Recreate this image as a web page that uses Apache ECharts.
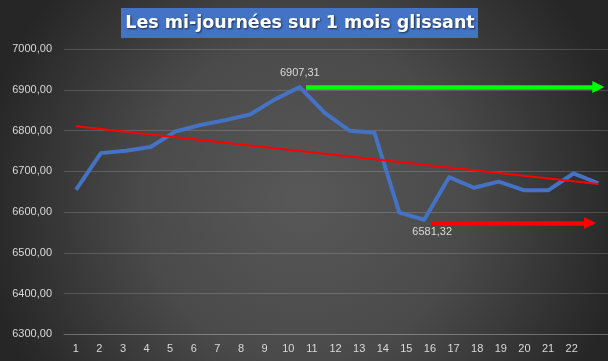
<!DOCTYPE html>
<html><head><meta charset="utf-8">
<script src="https://cdn.jsdelivr.net/npm/echarts@6/dist/echarts.min.js"></script>
<style>html,body{margin:0;padding:0;background:#2a2a2a}#c{width:608px;height:361px}</style>
</head><body><div id="c"></div>
<script>
const titleText = 'Les mi-journées sur 1 mois glissant';
const days = [1,2,3,4,5,6,7,8,9,10,11,12,13,14,15,16,17,18,19,20,21,22];
const values = [6655,6745,6751,6760,6798,6814,6826,6840,6877,6907.31,6844,6800,6795,6599,6581.32,6686,6660,6675,6654,6654,6695,6671];
const trendStart = [1, 6811];
const trendEnd = [22, 6669];
const maxArrow = [[10.25, 6907.31],[22.0, 6907.31]];
const minArrow = [[15.3, 6573.5],[21.67, 6573.5]];
const yTicks = [6300,6400,6500,6600,6700,6800,6900,7000];

const fmt = v => Number(v).toFixed(2).replace('.', ',');
const labelColor = '#d9d9d9';
const font = '"Liberation Sans", Arial, sans-serif';

const chart = echarts.init(document.getElementById('c'));
chart.setOption({
  backgroundColor: {type:'radial', x:0.5, y:0.55, r:0.9, colorStops:[{offset:0,color:'#585858'},{offset:0.5,color:'#4a4a4a'},{offset:1,color:'#262626'}]},
  animation:false,
  graphic:[
    {type:'rect', shape:{x:121, y:8, width:357, height:30}, style:{fill:'#4472C4'}},
    {type:'text', x:300, y:23, style:{text:titleText, fill:'#ffffff', font:'bold 17.5px "DejaVu Sans", sans-serif', align:'center', verticalAlign:'middle', textShadowColor:'rgba(0,0,0,0.6)', textShadowBlur:2, textShadowOffsetX:1, textShadowOffsetY:1}}
  ],
  grid:{left:64, right:0, top:49.3, bottom:26.7},
  xAxis:[
    {type:'value', min:0.5046, max:23.537,
     axisLine:{show:true, lineStyle:{color:'rgba(255,255,255,0.16)'}}, axisTick:{show:false}, splitLine:{show:false},
     axisLabel:{customValues:days, color:labelColor, fontFamily:font, fontSize:11, margin:9, formatter: v => String(v)}},
    {type:'value', min:0.5175, max:22.39, show:false, splitLine:{show:false}}
  ],
  yAxis:{type:'value', min:6300, max:7000, interval:100,
    axisLine:{show:false}, axisTick:{show:false},
    splitLine:{lineStyle:{color:'rgba(255,255,255,0.16)', width:1}},
    axisLabel:{color:labelColor, fontFamily:font, fontSize:11, margin:12, formatter: v => yTicks.includes(v) ? fmt(v) : ''}},
  series:[
    {type:'line', xAxisIndex:1, data:[trendStart, trendEnd], symbol:'none', lineStyle:{color:'#ff0000', width:2}, z:3, silent:true},
    {type:'line', xAxisIndex:1, data:days.map((d,i)=>[d, values[i]]), symbol:'none', lineStyle:{color:'#4472C4', width:4, join:'round'}, z:2,
     markPoint:{silent:true, symbol:'circle', symbolSize:0,
       data:[
         {type:'max', valueDim:'y', label:{show:true, position:'top', distance:9, color:labelColor, fontFamily:font, fontSize:11, formatter: p => fmt(p.value)}},
         {type:'min', valueDim:'y', label:{show:true, position:'bottom', distance:7, offset:[8,0], color:labelColor, fontFamily:font, fontSize:11, formatter: p => fmt(p.value)}}
       ]},
     markLine:{silent:true, symbol:['none','triangle'], symbolSize:[12,12], label:{show:false},
       data:[
         [{coord:maxArrow[0], lineStyle:{color:'#00ff00', width:4.5, type:'solid'}},{coord:maxArrow[1]}],
         [{coord:minArrow[0], lineStyle:{color:'#ff0000', width:4.5, type:'solid'}},{coord:minArrow[1]}]
       ]}}
  ]
});
</script></body></html>
